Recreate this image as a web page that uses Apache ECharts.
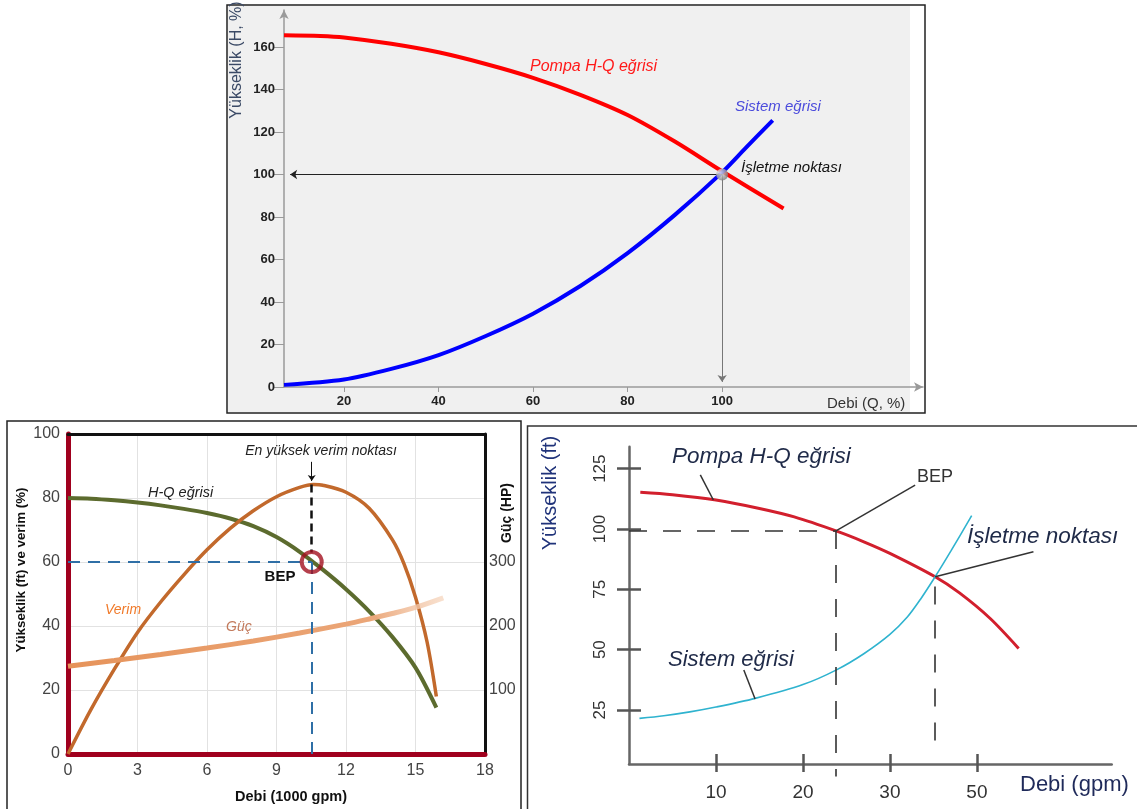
<!DOCTYPE html>
<html>
<head>
<meta charset="utf-8">
<title>Pompa eğrileri</title>
<script src="https://cdn.jsdelivr.net/npm/echarts@6/dist/echarts.min.js"></script>
<style>
  html, body { margin: 0; padding: 0; background: #fff; }
  #chart { width: 1137px; height: 809px; }
</style>
</head>
<body>
<div id="chart"></div>
<script>
// ---- top chart: Debi (Q, %) vs Yükseklik (H, %)
const topTicksX = [20, 40, 60, 80, 100]
const topTicksY = [0, 20, 40, 60, 80, 100, 120, 140, 160]
const topPump = [[7.3, 165.5], [15, 165.2], [20, 164.5], [30, 161.5], [40, 157.5], [50, 152], [60, 145.5],
  [70, 137.5], [80, 128], [90, 115.5], [100, 101.5], [113, 84]]
const topSystem = [[7.3, 1], [20, 3.5], [30, 8.5], [40, 15], [50, 24], [60, 34.5], [70, 47.5],
  [80, 63], [90, 81], [100, 101], [105, 112.5], [110.7, 125.5]]
const topOperating = [100, 100]

// ---- bottom left: Debi (1000 gpm)
const blHead = [[0, 80], [1, 79.8], [2, 79.3], [3, 78.6], [4, 77.7], [5, 76.6], [6, 75.3], [7, 73.6], [8, 71.2],
  [9, 67.8], [10, 63.2], [11, 57.6], [12, 51.5], [13, 44.6], [14, 36.6], [15, 27], [15.9, 14.5]]
const blEfficiency = [[0, 0], [1, 14], [2, 26.5], [3, 38], [4, 47.5], [5, 56], [6, 63.8], [7, 70.5], [8, 76],
  [9, 80.4], [10, 83.3], [10.6, 84.2], [11, 84], [12, 81.8], [13, 76.8], [14, 67], [14.5, 59.5],
  [15, 49], [15.5, 35], [15.9, 18]]
const blPower = [[0, 137], [2, 146], [4, 155.5], [6, 165.5], [8, 176.5], [10, 189], [12, 203], [13, 211],
  [14, 219.5], [15, 229], [16.2, 244]]
const blPowerTicks = [100, 200, 300]
const blBep = [10.52, 60]
const blPeak = [10.52, 84.2]
const blPeakArrow = [91.3, 85.3]

// ---- bottom right: Debi (gpm)
const brFlowTicks = [10, 20, 30, 40]
const brFlowLabels = ['10', '20', '30', '50']
const brHeadTicks = [25, 50, 75, 100, 125]
const brPump = [[1.3, 115.2], [5, 114.2], [10, 112], [15, 108.5], [19, 105], [23.8, 99.2], [27, 94.7],
  [30, 89.9], [35.2, 80.2], [38, 73.5], [41.5, 63], [44.8, 50.5]]
const brSystem = [[1.2, 21.5], [4, 22.6], [7, 24.2], [10, 26.2], [14.5, 29.8], [20, 35.5], [23.8, 41.5],
  [27, 48.3], [30, 56.3], [32, 63.5], [33.5, 70.8], [35.2, 80.2], [37, 90.8], [39.4, 105.5]]
const brBep = [23.8, 99.2]
const brOperating = [35.2, 80.2]
// leader lines: [label end, curve end]
const brLeaders = [
  [[8.2, 122.4], [9.7, 112]],
  [[32.9, 118.2], [23.8, 99.2]],
  [[46.5, 90.6], [35.2, 80.2]],
  [[13.2, 41.6], [14.5, 29.5]]
]

const FONT = '"Liberation Sans", Arial, sans-serif'

function txt(text, x, y, style, rotation) {
  return {
    type: 'text', x: x, y: y, z: 100, silent: true, rotation: rotation || 0,
    style: Object.assign({ text: text, fontFamily: FONT, fontSize: 14, fill: '#222', align: 'left', verticalAlign: 'middle' }, style)
  }
}

function curve(name, xi, yi, data, lineStyle) {
  return {
    name: name, type: 'line', xAxisIndex: xi, yAxisIndex: yi, data: data,
    smooth: 0.3, showSymbol: false, silent: true, lineStyle: lineStyle
  }
}

const chart = echarts.init(document.getElementById('chart'), null, { renderer: 'canvas' })

const blueDash = { color: '#2f6fa6', width: 2, type: [12, 8] }
const blackDash = { color: '#111', width: 2.5, type: [8, 5] }
const brDash = { color: '#333', width: 1.6, type: [18, 16] }
const leader = { color: '#333', width: 1.5, type: 'solid' }
const hidden = { show: false }

chart.setOption({
  animation: false,
  backgroundColor: '#fff',
  textStyle: { fontFamily: FONT },
  grid: [
    { left: 284, top: 10, width: 639, height: 377 },
    { left: 68, top: 434, width: 417, height: 320 },
    { left: 629, top: 446.7, width: 482.7, height: 317.3 },
    // same panel, a little deeper, so the BEP guide can run past the axis
    { left: 629, top: 446.7, width: 482.7, height: 330 }
  ],
  xAxis: [
    {
      gridIndex: 0, type: 'value', min: 7.3, max: 142.5, position: 'bottom',
      axisLine: { onZero: false, symbol: ['none', 'arrow'], symbolSize: [7, 9], lineStyle: { color: '#9a9a9a', width: 1.5 } },
      axisTick: { customValues: topTicksX, length: 5, lineStyle: { color: '#9a9a9a' } },
      axisLabel: { customValues: topTicksX, fontWeight: 'bold', fontSize: 13, color: '#222', margin: 8 },
      splitLine: { show: false }
    },
    {
      gridIndex: 1, type: 'value', min: 0, max: 18, interval: 3, position: 'bottom',
      axisLine: { onZero: false, lineStyle: { color: '#a0001e', width: 5 } },
      axisTick: { show: false },
      axisLabel: { fontSize: 16, color: '#444', margin: 9 },
      splitLine: { show: true, lineStyle: { color: '#e2e2e2' } }
    },
    {
      gridIndex: 1, type: 'value', min: 0, max: 18, position: 'top',
      axisLine: { onZero: false, lineStyle: { color: '#111', width: 3 } },
      axisTick: { show: false }, axisLabel: { show: false }, splitLine: { show: false }
    },
    {
      gridIndex: 2, type: 'value', min: 0, max: 55.5, position: 'bottom',
      axisLine: { onZero: false, lineStyle: { color: '#666', width: 2.5 } },
      axisTick: { customValues: brFlowTicks, length: 8, lineStyle: { color: '#555', width: 2.5 } },
      axisLabel: {
        customValues: brFlowTicks, fontSize: 19, color: '#333', margin: 19,
        formatter: v => brFlowLabels[brFlowTicks.indexOf(v)]
      },
      splitLine: { show: false }
    },
    {
      gridIndex: 2, type: 'value', min: 0, max: 55.5, position: 'bottom',
      axisLine: { onZero: false, show: false },
      axisTick: { customValues: brFlowTicks, inside: true, length: 10, lineStyle: { color: '#555', width: 2.5 } },
      axisLabel: { show: false }, splitLine: { show: false }
    },
    { gridIndex: 3, type: 'value', min: 0, max: 55.5, axisLine: hidden, axisTick: hidden, axisLabel: hidden, splitLine: hidden }
  ],
  yAxis: [
    {
      gridIndex: 0, type: 'value', min: 0, max: 177.4, position: 'left',
      axisLine: { onZero: false, symbol: ['none', 'arrow'], symbolSize: [7, 9], lineStyle: { color: '#9a9a9a', width: 1.5 } },
      axisTick: { customValues: topTicksY, length: 11, lineStyle: { color: '#9a9a9a' } },
      axisLabel: { customValues: topTicksY, fontWeight: 'bold', fontSize: 13, color: '#222', margin: 9, padding: [0, 0, 16, 0] },
      splitLine: { show: false }
    },
    {
      gridIndex: 1, type: 'value', min: 0, max: 100, interval: 20, position: 'left',
      axisLine: { onZero: false, lineStyle: { color: '#a0001e', width: 5 } },
      axisTick: { show: false },
      axisLabel: { fontSize: 16, color: '#444', margin: 8 },
      splitLine: { show: true, lineStyle: { color: '#e2e2e2' } }
    },
    {
      gridIndex: 1, type: 'value', min: 0, max: 500, position: 'right',
      axisLine: { show: true, onZero: false, lineStyle: { color: '#111', width: 3 } },
      axisTick: { show: false },
      axisLabel: { customValues: blPowerTicks, fontSize: 16, color: '#444', margin: 4 },
      splitLine: { show: false }
    },
    {
      gridIndex: 2, type: 'value', min: 2.6, max: 134.1, position: 'left',
      axisLine: { onZero: false, lineStyle: { color: '#666', width: 2.5 } },
      axisTick: { customValues: brHeadTicks, length: 12, lineStyle: { color: '#555', width: 2.5 } },
      axisLabel: { customValues: brHeadTicks, rotate: 90, fontSize: 17, color: '#333', margin: 20 },
      splitLine: { show: false }
    },
    {
      gridIndex: 2, type: 'value', min: 2.6, max: 134.1, position: 'left',
      axisLine: { onZero: false, show: false },
      axisTick: { customValues: brHeadTicks, inside: true, length: 12, lineStyle: { color: '#555', width: 2.5 } },
      axisLabel: { show: false }, splitLine: { show: false }
    },
    { gridIndex: 3, type: 'value', min: -2.66, max: 134.1, axisLine: hidden, axisTick: hidden, axisLabel: hidden, splitLine: hidden }
  ],
  series: [
    curve('Pompa H-Q eğrisi', 0, 0, topPump, { color: '#ff0000', width: 4 }),
    curve('Sistem eğrisi', 0, 0, topSystem, { color: '#0000ff', width: 4 }),
    {
      name: 'İşletme noktası', type: 'scatter', xAxisIndex: 0, yAxisIndex: 0, data: [topOperating],
      symbolSize: 12, silent: true, z: 5,
      itemStyle: {
        color: {
          type: 'radial', x: 0.35, y: 0.35, r: 0.7,
          colorStops: [{ offset: 0, color: '#f2f2f2' }, { offset: 1, color: '#777' }]
        }
      },
      markLine: {
        silent: true, symbol: ['none', 'arrow'], symbolSize: 7, label: { show: false },
        data: [
          [{ coord: topOperating, lineStyle: { color: '#222', width: 1, type: 'solid' } }, { coord: [8.6, topOperating[1]] }],
          [{ coord: topOperating, lineStyle: { color: '#777', width: 1, type: 'solid' } }, { coord: [topOperating[0], 2.4] }]
        ]
      }
    },
    curve('H-Q eğrisi', 1, 1, blHead, { color: '#5c6b2e', width: 4 }),
    curve('Verim', 1, 1, blEfficiency, { color: '#c2692c', width: 3.5 }),
    curve('Güç', 1, 2, blPower, {
      width: 5,
      color: new echarts.graphic.LinearGradient(0, 0, 1, 0, [
        { offset: 0, color: '#e6935a' }, { offset: 0.8, color: '#eba678' }, { offset: 1, color: 'rgba(246,214,190,0.7)' }
      ])
    }),
    {
      name: 'BEP', type: 'scatter', xAxisIndex: 1, yAxisIndex: 1, data: [blBep],
      symbolSize: 20, silent: true, z: 6,
      itemStyle: { color: 'rgba(0,0,0,0)', borderColor: '#a3101f', borderWidth: 4 },
      markLine: {
        silent: true, symbol: 'none', label: { show: false }, z: 4,
        data: [
          [{ coord: [0, blBep[1]], lineStyle: blueDash }, { coord: blBep }],
          [{ coord: blBep, lineStyle: blueDash }, { coord: [blBep[0], 0] }],
          [{ coord: blPeak, lineStyle: blackDash }, { coord: [blPeak[0], blBep[1] + 3] }],
          [{ coord: [blPeak[0], blPeakArrow[0]], symbol: 'none', lineStyle: { color: '#111', width: 1, type: 'solid' } },
            { coord: [blPeak[0], blPeakArrow[1]], symbol: 'arrow', symbolSize: 6 }]
        ]
      }
    },
    curve('Pompa H-Q eğrisi', 3, 3, brPump, { color: '#d21f2d', width: 3 }),
    curve('Sistem eğrisi', 3, 3, brSystem, { color: '#2fb3cf', width: 1.6 }),
    {
      name: 'noktalar', type: 'scatter', xAxisIndex: 3, yAxisIndex: 3, data: [brBep, brOperating],
      symbolSize: 0, silent: true, clip: false,
      markLine: {
        silent: true, symbol: 'none', label: { show: false },
        data: [
          [{ coord: [0, brBep[1]], lineStyle: brDash }, { coord: brBep }],
          [{ coord: [brOperating[0], brOperating[1] - 4], lineStyle: brDash }, { coord: [brOperating[0], 7.6] }]
        ].concat(brLeaders.map(l => [{ coord: l[0], lineStyle: leader }, { coord: l[1] }]))
      }
    },
    {
      name: 'BEP debi', type: 'scatter', xAxisIndex: 5, yAxisIndex: 5, data: [brBep],
      symbolSize: 0, silent: true, clip: false,
      markLine: {
        silent: true, symbol: 'none', label: { show: false },
        data: [[{ coord: brBep, lineStyle: brDash }, { coord: [brBep[0], -2.6] }]]
      }
    }
  ],
  graphic: [
    // frames and panel background
    { type: 'rect', z: -10, silent: true, shape: { x: 228, y: 6, width: 682, height: 406 }, style: { fill: '#f0f0f0' } },
    { type: 'rect', z: 90, silent: true, shape: { x: 227, y: 5, width: 698, height: 408 }, style: { fill: 'none', stroke: '#222', lineWidth: 1.5 } },
    { type: 'rect', z: 90, silent: true, shape: { x: 7, y: 421, width: 514, height: 400 }, style: { fill: 'none', stroke: '#222', lineWidth: 1.5 } },
    { type: 'rect', z: 90, silent: true, shape: { x: 527.5, y: 426, width: 620, height: 400 }, style: { fill: 'none', stroke: '#333', lineWidth: 1.5 } },

    // top chart texts
    txt('Pompa H-Q eğrisi', 530, 67, { fontSize: 16, fontStyle: 'italic', fill: '#ff1a1a' }),
    txt('Sistem eğrisi', 735, 107, { fontSize: 15, fontStyle: 'italic', fill: '#4b4bdc' }),
    txt('İşletme noktası', 741, 168, { fontSize: 15, fontStyle: 'italic', fill: '#111' }),
    txt('Debi (Q, %)', 827, 404, { fontSize: 15, fill: '#333' }),
    txt('Yükseklik (H, %)', 237, 60, { fontSize: 16, fill: '#3b4a66', align: 'center' }, Math.PI / 2),

    // bottom left texts
    txt('En yüksek verim noktası', 321, 451, { fontSize: 14, fontStyle: 'italic', align: 'center' }),
    txt('H-Q eğrisi', 148, 493, { fontSize: 14.5, fontStyle: 'italic' }),
    txt('Verim', 105, 610, { fontSize: 14, fontStyle: 'italic', fill: '#f07a2a' }),
    txt('Güç', 226, 627, { fontSize: 14, fontStyle: 'italic', fill: '#c27a5c' }),
    txt('BEP', 280, 577, { fontSize: 15, fontWeight: 'bold', fill: '#111', align: 'center' }),
    txt('Debi (1000 gpm)', 291, 797, { fontSize: 14.5, fontWeight: 'bold', fill: '#111', align: 'center' }),
    txt('Yükseklik (ft) ve verim (%)', 21, 570, { fontSize: 13.3, fontWeight: 'bold', fill: '#111', align: 'center' }, Math.PI / 2),
    txt('Güç (HP)', 507, 513, { fontSize: 14, fontWeight: 'bold', fill: '#111', align: 'center' }, Math.PI / 2),

    // bottom right texts
    txt('Pompa H-Q eğrisi', 672, 457, { fontSize: 22.5, fontStyle: 'italic', fill: '#1f2a48' }),
    txt('BEP', 917, 477, { fontSize: 18, fill: '#333' }),
    txt('İşletme noktası', 967, 537, { fontSize: 22.5, fontStyle: 'italic', fill: '#1f2a48' }),
    txt('Sistem eğrisi', 668, 660, { fontSize: 22, fontStyle: 'italic', fill: '#1f2a48' }),
    txt('Debi (gpm)', 1020, 785, { fontSize: 22, fill: '#1f2a5a' }),
    txt('Yükseklik (ft)', 550, 493, { fontSize: 20, fill: '#20337a', align: 'center' }, Math.PI / 2)
  ]
})
</script>
</body>
</html>
